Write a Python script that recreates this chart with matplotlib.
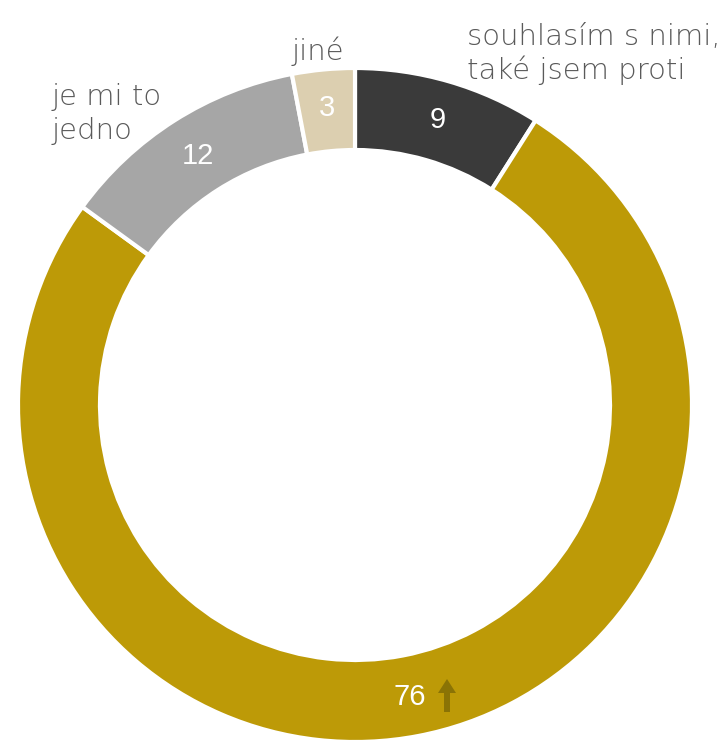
import matplotlib
matplotlib.use("Agg")
import matplotlib.pyplot as plt
from matplotlib.patches import FancyArrow

categories = ["souhlasím s nimi,\ntaké jsem proti", "", "je mi to\njedno", "jiné"]
values = [9, 76, 12, 3]
colors = ["#3a3a3a", "#bd9a07", "#a6a6a6", "#dccfb0"]

W, H = 725, 740
fig = plt.figure(figsize=(W / 100, H / 100), dpi=100)
ax = fig.add_axes([0, 0, 1, 1])

cx, cy = 355, H - 405
R = 337
width = 82
wedges, _ = ax.pie(values, colors=colors, startangle=90, counterclock=False,
                   center=(cx, cy), radius=R, frame=True,
                   wedgeprops=dict(width=width, edgecolor="white", linewidth=3))
ax.set_xlim(0, W)
ax.set_ylim(0, H)
ax.set_aspect("equal")
ax.axis("off")

num_font = ["Liberation Sans", "DejaVu Sans"]
lab_font = ["DejaVu Sans"]

# value labels
val_pos = [(438, 120), (410, 697), (198, 156), (327, 108)]
for v, (x, y) in zip(values, val_pos):
    ax.text(x, H - y, str(v), color="white", fontsize=21, family=num_font,
            ha="center", va="center")

# arrow next to 76
ax.add_patch(FancyArrow(447, H - 712, 0, 33, width=6, head_width=18,
                        head_length=14, length_includes_head=True,
                        color="#8a7305", linewidth=0))

# category labels (x, first baseline y)
lab_pos = [(467, 45), None, (52, 105), (292, 60)]
line_gap = 34
for c, p in zip(categories, lab_pos):
    if p is None:
        continue
    for i, line in enumerate(c.split("\n")):
        ax.text(p[0], H - (p[1] + i * line_gap), line, color="#5a5a5a",
                fontsize=21, family=lab_font, weight="light",
                ha="left", va="baseline")

fig.savefig("out.png", dpi=100)
